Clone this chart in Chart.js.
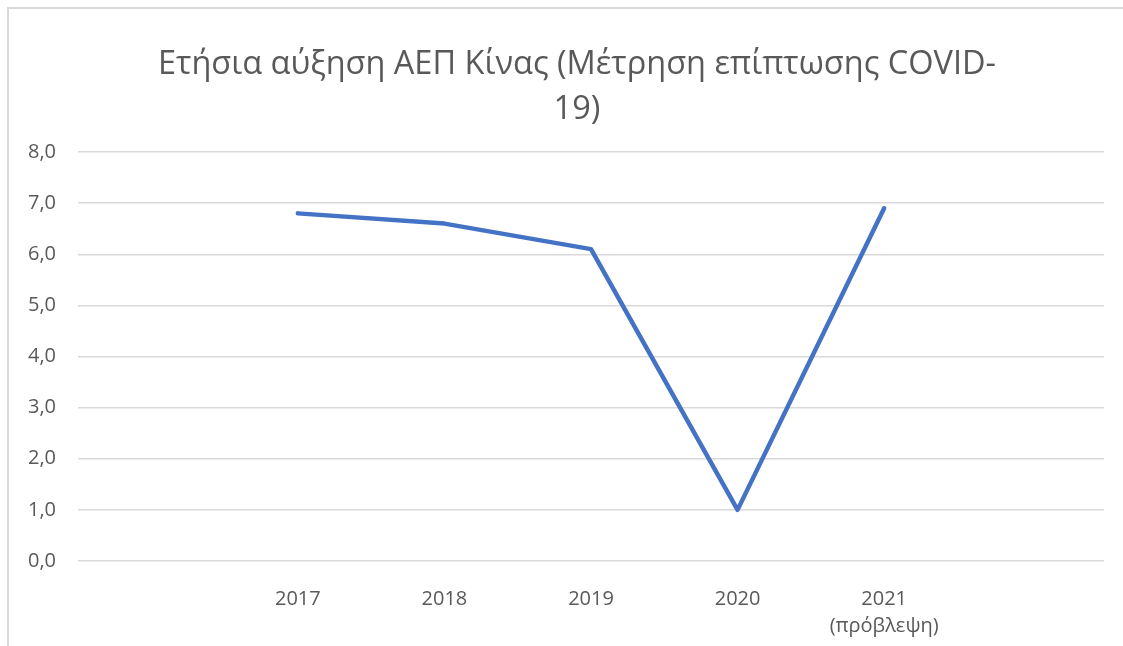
<!DOCTYPE html>
<html>
<head>
<meta charset="utf-8">
<script src="https://cdn.jsdelivr.net/npm/chart.js@4/dist/chart.umd.min.js"></script>
<style>
  html, body { margin: 0; padding: 0; background: #ffffff; overflow: hidden; }
  #wrap { position: relative; width: 1123px; height: 646px; }
  #frame { position: absolute; left: 7px; top: 7px; width: 1140px; height: 660px; border: 2px solid #d9d9d9; box-sizing: border-box; pointer-events: none; }
  canvas { position: absolute; left: 0; top: 0; }
</style>
</head>
<body>
<div id="wrap">
  <canvas id="c" width="1123" height="646"></canvas>
  <div id="frame"></div>
</div>
<script>
const titleLines = ["Ετήσια αύξηση ΑΕΠ Κίνας (Μέτρηση επίπτωσης COVID-", "19)"];
const categories = ["", "2017", "2018", "2019", "2020", ["2021", "(πρόβλεψη)"], ""];
const gdpGrowth = [null, 6.8, 6.6, 6.1, 1.0, 6.9, null];
const yMin = 0, yMax = 8, yStep = 1;

const FONT = "'Open Sans', 'Noto Sans', sans-serif";
const TXT = "#595959";

// Centre the title on the frame rather than on the plot width
const titleShift = {
  id: 'titleShift',
  afterLayout(chart) {
    const t = chart.titleBlock;
    if (t) { t.left += 21; t.right += 21; }
  }
};

new Chart(document.getElementById('c'), {
  type: 'line',
  data: {
    labels: categories,
    datasets: [{
      label: 'ΑΕΠ',
      data: gdpGrowth,
      borderColor: '#4472C4',
      borderWidth: 4.5,
      borderCapStyle: 'round',
      borderJoinStyle: 'round',
      pointRadius: 0,
      pointHoverRadius: 0,
      tension: 0,
      fill: false
    }]
  },
  plugins: [titleShift],
  options: {
    responsive: false,
    animation: false,
    events: [],
    layout: { padding: { left: 8, right: 19, top: 0, bottom: 0 } },
    plugins: {
      legend: { display: false },
      tooltip: { enabled: false },
      title: {
        display: true,
        text: titleLines,
        color: TXT,
        font: { family: FONT, size: 32.5, weight: 'normal', lineHeight: 1.385 },
        padding: { top: 42, bottom: 20 }
      }
    },
    scales: {
      x: {
        offset: true,
        grid: { display: false },
        border: { display: false },
        ticks: {
          color: TXT,
          font: { family: FONT, size: 20, lineHeight: 1.35 },
          padding: 17,
          maxRotation: 0,
          autoSkip: false
        },
        afterFit: (s) => { s.height = 85; }
      },
      y: {
        min: yMin,
        max: yMax,
        grid: { color: '#d9d9d9', lineWidth: 1.5, drawTicks: false },
        border: { display: false },
        ticks: {
          stepSize: yStep,
          color: TXT,
          font: { family: FONT, size: 20 },
          padding: 22,
          callback: (v) => v.toFixed(1).replace('.', ',')
        },
        afterFit: (s) => { s.width = 70; }
      }
    }
  }
});
</script>
</body>
</html>
